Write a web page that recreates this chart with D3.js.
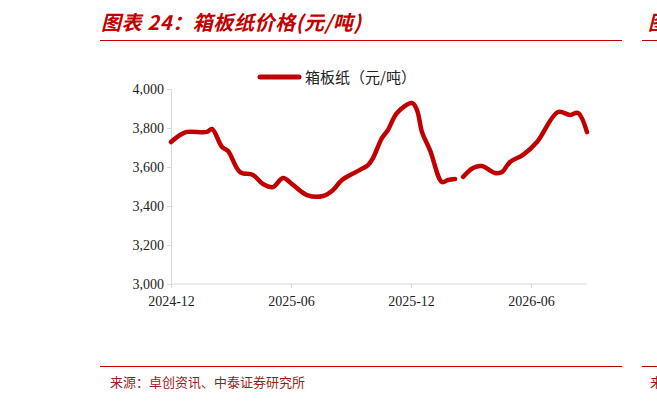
<!DOCTYPE html><html><head><meta charset="utf-8">
<script src="https://cdn.jsdelivr.net/npm/d3@7"></script>
<style>body{margin:0;background:#fff}</style></head><body><svg id="c" width="657" height="401"></svg>
<script>
const seriesName="箱板纸（元/吨）";
const monthsA=[0,0.45,0.8,1.8,2.05,2.55,2.85,3.45,4.1,4.6,5.1,5.6,6.1,6.8,7.6,8.1,8.55,9.45,9.85,10.1,10.55,10.85,11.3,12.05,12.3,12.55,12.95,13.55,13.85,14.2];
const valuesA=[3728,3764,3780,3780,3795,3703,3682,3574,3559,3513,3497,3544,3508,3456,3451,3482,3533,3585,3610,3646,3749,3790,3877,3928,3892,3779,3687,3523,3533,3538];
const monthsB=[14.6,15.1,15.55,16.2,16.55,16.95,17.6,18.3,19.35,19.95,20.35,20.8];
const valuesB=[3549,3595,3605,3569,3574,3626,3662,3728,3882,3867,3877,3779];
const xTicks=[0,6,12,18];
const xTickLabels=["2024-12","2025-06","2025-12","2026-06"];
const yTicks=[3000,3200,3400,3600,3800,4000];
const svg=d3.select("#c");
const red="#c00000";
const x=d3.scaleLinear().domain([0,20.8]).range([171,587]);
const y=d3.scaleLinear().domain([3000,4000]).range([284,89]);
const f="'Times New Roman','Liberation Serif',serif";
svg.append("text").attr("x",101).attr("y",30).attr("fill",red).attr("font-size",20).attr("font-weight","bold").attr("font-style","italic").attr("font-family","'Noto Sans CJK SC'").attr("letter-spacing",0.6).text("图表 24：箱板纸价格(元/吨)");
svg.append("line").attr("x1",100).attr("x2",622).attr("y1",40.5).attr("y2",40.5).attr("stroke",red).attr("stroke-width",1);
svg.append("line").attr("x1",642).attr("x2",657).attr("y1",40.5).attr("y2",40.5).attr("stroke",red).attr("stroke-width",1);
svg.append("text").attr("x",648).attr("y",30).attr("fill",red).attr("font-size",20).attr("font-weight","bold").attr("font-style","italic").attr("font-family","'Noto Sans CJK SC'").text("图");
svg.append("line").attr("x1",100).attr("x2",622).attr("y1",366.5).attr("y2",366.5).attr("stroke",red).attr("stroke-width",1);
svg.append("line").attr("x1",642).attr("x2",657).attr("y1",366.5).attr("y2",366.5).attr("stroke",red).attr("stroke-width",1);
svg.append("text").attr("x",110).attr("y",387).attr("fill","#9b1b1b").attr("font-size",13).attr("font-family","'Noto Sans CJK SC'").text("来源：卓创资讯、中泰证券研究所");
svg.append("text").attr("x",650).attr("y",387).attr("fill","#9b1b1b").attr("font-size",13).attr("font-family","'Noto Sans CJK SC'").text("来");
const ya=d3.axisLeft(y).tickValues(yTicks).tickSize(4).tickFormat(d3.format(","));
const yg=svg.append("g").attr("transform","translate(171,0)").call(ya);
const xa=d3.axisBottom(x).tickValues(xTicks).tickSize(4).tickFormat((d,i)=>xTickLabels[i]);
const xg=svg.append("g").attr("transform","translate(0,284)").call(xa);
[yg,xg].forEach(g=>{g.selectAll("path,line").attr("stroke","#d9d9d9");g.selectAll("text").attr("font-family",f).attr("font-size",14).attr("fill","#222");});
xg.select(".domain").attr("d","M171,0H587");
xg.selectAll("text").attr("dy","1.05em");
yg.selectAll("line").attr("x2",-4);
const line=d3.line().x(d=>x(d[0])).y(d=>y(d[1])).curve(d3.curveCatmullRom);
[[monthsA,valuesA],[monthsB,valuesB]].forEach(([m,v])=>{
 svg.append("path").datum(m.map((d,i)=>[d,v[i]])).attr("d",line).attr("fill","none").attr("stroke",red).attr("stroke-width",4.5).attr("stroke-linecap","round").attr("stroke-linejoin","round");
});
svg.append("line").attr("x1",260).attr("x2",299).attr("y1",77).attr("y2",77).attr("stroke",red).attr("stroke-width",5).attr("stroke-linecap","round");
svg.append("text").attr("x",305).attr("y",83).attr("font-size",15).attr("font-family","'Noto Sans CJK SC'").attr("fill","#222").text(seriesName);
</script></body></html>
